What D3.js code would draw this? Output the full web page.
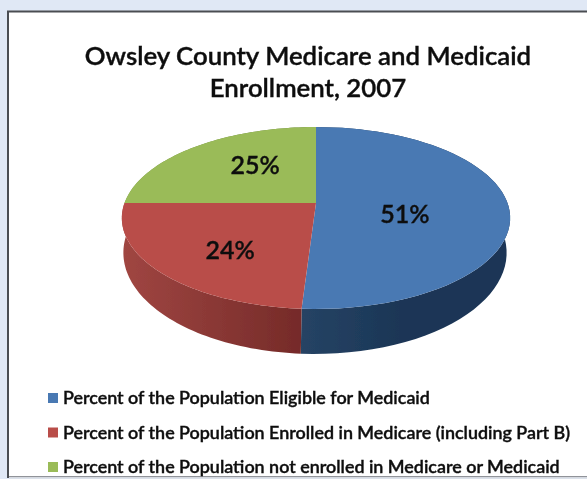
<!DOCTYPE html>
<html>
<head>
<meta charset="utf-8">
<script src="https://cdn.jsdelivr.net/npm/d3@7"></script>
<style>
  html, body { margin: 0; padding: 0; background: #e0e8f5; overflow: hidden; }
  text { font-family: Lato, "Open Sans", sans-serif; fill: #111; stroke: #111; stroke-width: 0.4px; }
</style>
</head>
<body>
<div id="chart"></div>
<script>
const titleLines = ['Owsley County Medicare and Medicaid', 'Enrollment, 2007'];
const seriesNames = [
  'Percent of the Population Eligible for Medicaid',
  'Percent of the Population Enrolled in Medicare (including Part B)',
  'Percent of the Population not enrolled in Medicare or Medicaid',
];
const seriesValues = [51, 24, 25];
const topColors = ['#4a79b3', '#b94e4a', '#9abb59'];
const sideLeftColors = ['#264465', '#a04642', '#7d9a45'];
const sideRightColors = ['#1b3656', '#762b29', '#5f7a32'];

const width = 587;
const height = 479;

const svg = d3.select('#chart').append('svg')
  .attr('width', width)
  .attr('height', height)
  .style('display', 'block');

const defs = svg.append('defs');
defs.append('filter').attr('id', 'soft')
  .append('feGaussianBlur').attr('stdDeviation', 0.35);

// Chart frame, runs off the right edge of the picture
svg.append('rect')
  .attr('x', 8).attr('y', 11.5)
  .attr('width', 600).attr('height', 465.5)
  .attr('fill', '#fff')
  .attr('stroke', '#4a4d52')
  .attr('stroke-width', 2);
svg.append('line')
  .attr('x1', 9).attr('x2', width).attr('y1', 477.5).attr('y2', 477.5)
  .attr('stroke', '#d5d9e0').attr('stroke-width', 2);

const title = svg.append('g').attr('filter', 'url(#soft)');
title.selectAll('text').data(titleLines).enter().append('text')
  .attr('x', 308)
  .attr('y', (d, i) => 65 + i * 32)
  .attr('text-anchor', 'middle')
  .style('font-size', '25.8px')
  .style('font-weight', 600)
  .text((d) => d);

// Tilted disc: unit circle pushed through a perspective divide
const tilt = 0.165;
const topRim = { cx: 316, cy: 203, a: 191.5, b: 88.5 };
const bottomRim = { cx: 315, cy: 236, a: 189, b: 98.5 };

function project(rim, angle, r = 1) {
  const u = r * Math.sin(angle);
  const v = -r * Math.cos(angle);
  const w = 1 - tilt * v;
  return [rim.cx + (rim.a * u) / w, rim.cy + (rim.b * v) / w];
}

function rimPoints(rim, start, end) {
  return d3.range(0, 61).map((i) => project(rim, start + ((end - start) * i) / 60));
}

const line = d3.line();
const arcs = d3.pie().sort(null)(seriesValues);

// Side walls first, the top surface covers what is out of sight
const sides = svg.append('g').attr('filter', 'url(#soft)');
arcs.forEach((d, i) => {
  const gradient = defs.append('linearGradient')
    .attr('id', `side-${i}`)
    .attr('gradientUnits', 'userSpaceOnUse')
    .attr('x1', i === 0 ? 298 : 122).attr('x2', i === 0 ? 400 : 298)
    .attr('y1', 0).attr('y2', 0);
  gradient.append('stop').attr('offset', 0).attr('stop-color', sideLeftColors[i]);
  gradient.append('stop').attr('offset', 1).attr('stop-color', sideRightColors[i]);

  const band = rimPoints(topRim, d.startAngle, d.endAngle)
    .concat(rimPoints(bottomRim, d.startAngle, d.endAngle).reverse());
  sides.append('path')
    .attr('d', `${line(band)}Z`)
    .attr('fill', `url(#side-${i})`);
});

const slices = svg.append('g').attr('filter', 'url(#soft)');
arcs.forEach((d, i) => {
  const wedge = [[topRim.cx, topRim.cy]].concat(rimPoints(topRim, d.startAngle, d.endAngle));
  slices.append('path')
    .attr('d', `${line(wedge)}Z`)
    .attr('fill', topColors[i]);
});

// Percent labels sit near mid radius, nudged by hand
const labelNudge = [[-7, 10], [-12, 15], [3, -8]];
const labels = svg.append('g').attr('filter', 'url(#soft)');
labels.selectAll('text').data(arcs).enter().append('text')
  .attr('transform', (d, i) => {
    const [x, y] = project(topRim, (d.startAngle + d.endAngle) / 2, 0.5);
    return `translate(${x + labelNudge[i][0]},${y + labelNudge[i][1]})`;
  })
  .attr('text-anchor', 'middle')
  .attr('dy', '0.36em')
  .style('font-size', '25px')
  .style('font-weight', 600)
  .text((d) => `${d.value}%`);

// Legend
const legendY = d3.scalePoint().domain(seriesNames).range([398, 467]);
const legend = svg.append('g').attr('filter', 'url(#soft)');
const rows = legend.selectAll('g').data(seriesNames).enter().append('g')
  .attr('transform', (d) => `translate(48,${legendY(d)})`);
rows.append('rect')
  .attr('y', -5)
  .attr('width', 10).attr('height', 10)
  .attr('fill', (d, i) => topColors[i]);
rows.append('text')
  .attr('x', 15)
  .attr('dy', '0.36em')
  .style('font-size', '17.9px')
  .style('font-weight', 600)
  .text((d) => d);
</script>
</body>
</html>
